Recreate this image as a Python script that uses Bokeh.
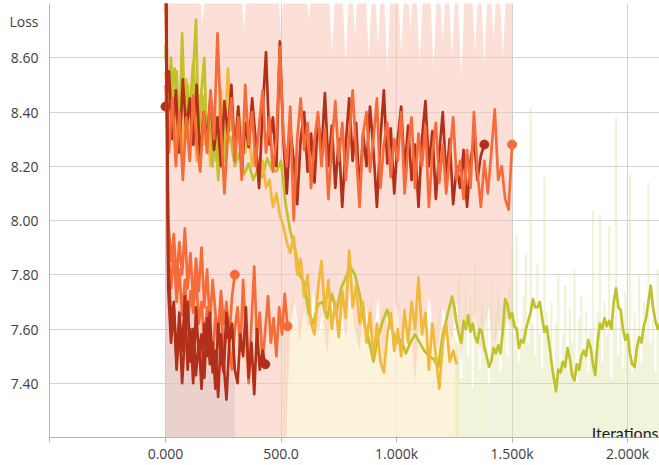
import numpy as np
from bokeh.plotting import figure
from bokeh.models import Range1d, FixedTicker, Label
from bokeh.embed import file_html
from bokeh.resources import INLINE

# ---------------- data ----------------
X_TICKS = [-500, 0, 500, 1000, 1500, 2000]
X_TICK_LABELS = ["", "0.000", "500.0", "1.000k", "1.500k", "2.000k"]
Y_GRID = [7.4, 7.6, 7.8, 8.0, 8.2, 8.4, 8.6, 8.8]
Y_TICKS = [7.4, 7.6, 7.8, 8.0, 8.2, 8.4, 8.6, 8.735]
Y_TICK_LABELS = ["7.40", "7.60", "7.80", "8.00", "8.20", "8.40", "8.60", "Loss"]
X_LABEL = "Iterations"
X_MIN, X_MAX = -502, 2138
Y_MIN, Y_MAX = 7.2, 8.8

# smoothed runs (values at a fixed iteration step, starting at iteration 0)
UPPER_DARK_STEP = 15
UPPER_DARK = [8.42, 8.55, 8.30, 8.48, 8.25, 8.52, 8.33, 8.45, 8.28, 8.50,
              8.22, 8.40, 8.30, 8.46, 8.26, 8.38, 8.20, 8.44, 8.32, 8.50,
              8.24, 8.42, 8.18, 8.36, 8.27, 8.45, 8.30, 8.12, 8.40, 8.62,
              8.28, 8.38, 8.20, 8.66, 8.30, 8.10, 8.34, 8.22, 8.06, 8.30,
              8.40, 8.18, 8.32, 8.14, 8.38, 8.25, 8.47, 8.20, 8.35, 8.12,
              8.30, 8.05, 8.28, 8.45, 8.22, 8.36, 8.10, 8.32, 8.20, 8.42,
              8.26, 8.05, 8.30, 8.48, 8.21, 8.34, 8.10, 8.30, 8.42, 8.18,
              8.35, 8.15, 8.28, 8.05, 8.30, 8.44, 8.20, 8.33, 8.08, 8.25,
              8.40, 8.15, 8.30, 8.06, 8.20, 8.12, 8.26, 8.05, 8.22, 8.30,
              8.15, 8.24, 8.28]

UPPER_ORANGE_STEP = 15
UPPER_ORANGE = [8.50, 8.25, 8.45, 8.20, 8.40, 8.15, 8.38, 8.22, 8.46, 8.28,
                8.18, 8.40, 8.25, 8.48, 8.30, 8.69, 8.35, 8.10, 8.32, 8.45,
                8.22, 8.38, 8.15, 8.50, 8.28, 8.40, 8.20, 8.35, 8.48, 8.25,
                8.38, 8.18, 8.30, 8.64, 8.32, 8.20, 8.42, 8.00, 8.30, 8.45,
                8.26, 8.36, 8.12, 8.30, 8.40, 8.20, 8.34, 8.08, 8.28, 8.44,
                8.22, 8.36, 8.15, 8.30, 8.48, 8.25, 8.05, 8.32, 8.40, 8.18,
                8.30, 8.45, 8.12, 8.28, 8.36, 8.16, 8.30, 8.22, 8.40, 8.10,
                8.27, 8.38, 8.12, 8.32, 8.20, 8.35, 8.05, 8.25, 8.36, 8.14,
                8.28, 8.10, 8.24, 8.38, 8.15, 8.22, 8.08, 8.26, 8.12, 8.40,
                8.18, 8.05, 8.22, 8.10, 8.25, 8.41, 8.15, 8.20, 8.08, 8.04,
                8.28]

LOWER_DARK_A_STEP = 12
LOWER_DARK_A = [9.30, 7.85, 7.62, 7.70, 7.48, 7.66, 7.52, 7.72, 7.45, 7.60,
                7.40, 7.68, 7.50, 7.58, 7.42, 7.64, 7.47, 7.55, 7.38, 7.62,
                7.50, 7.44, 7.66, 7.58]

LOWER_DARK_B_STEP = 12
LOWER_DARK_B = [9.10, 7.75, 7.55, 7.68, 7.45, 7.62, 7.40, 7.58, 7.70, 7.48,
                7.60, 7.43, 7.56, 7.38, 7.62, 7.50, 7.66, 7.44, 7.52, 7.35,
                7.58, 7.47, 7.34, 7.55, 7.62, 7.45, 7.40, 7.58, 7.50, 7.68,
                7.42, 7.55, 7.36, 7.60, 7.45, 7.52, 7.47]

LOWER_ORANGE_A_STEP = 12
LOWER_ORANGE_A = [9.00, 8.00, 7.85, 7.95, 7.78, 7.92, 7.80, 7.97, 7.75, 7.88,
                  7.70, 7.86, 7.74, 7.90, 7.68, 7.82, 7.62, 7.78, 7.66, 7.58,
                  7.74, 7.62, 7.70, 7.56, 7.72, 7.80]

LOWER_ORANGE_B_STEP = 12
LOWER_ORANGE_B = [8.90, 7.90, 7.75, 7.88, 7.70, 7.82, 7.65, 7.78, 7.60, 7.74,
                  7.66, 7.80, 7.62, 7.70, 7.55, 7.68, 7.58, 7.50, 7.64, 7.56,
                  7.72, 7.48, 7.62, 7.54, 7.45, 7.60, 7.68, 7.52, 7.78, 7.58,
                  7.40, 7.62, 7.83, 7.55, 7.66, 7.48, 7.60, 7.72, 7.55, 7.64,
                  7.50, 7.68, 7.58, 7.73, 7.61]

OLIVE_SHORT_STEP = 12
OLIVE_SHORT = [8.65, 8.40, 8.60, 8.35, 8.55, 8.30, 8.69, 8.38, 8.50, 8.30,
               8.55, 8.74, 8.28, 8.48, 8.60, 8.25, 8.42, 8.20, 8.38, 8.15,
               8.30, 8.22, 8.34]

# long olive run: first part every 20 iterations (0..1220), tail every 10 (1240..)
OLIVE_LONG_STEP = 20
OLIVE_LONG = [8.62, 8.40, 8.56, 8.30, 8.50, 8.36, 8.58, 8.32, 8.46, 8.28,
              8.40, 8.22, 8.36, 8.27, 8.31, 8.20, 8.25, 8.17, 8.21, 8.15,
              8.19, 8.16, 8.23, 8.19, 8.18, 8.22,
              8.06, 7.96, 7.90, 7.80, 7.77, 7.66, 7.62, 7.69, 7.70, 7.64,
              7.73, 7.66, 7.75, 7.79, 7.83, 7.80, 7.73, 7.62, 7.56, 7.48,
              7.57, 7.63, 7.67, 7.60, 7.55,
              7.56, 7.51, 7.55, 7.58, 7.55, 7.52, 7.50, 7.49, 7.46, 7.58, 7.65]
OLIVE_TAIL_START, OLIVE_TAIL_STEP = 1240, 10
OLIVE_TAIL = [7.72, 7.68, 7.62, 7.58, 7.55, 7.63, 7.60, 7.65, 7.59, 7.62,
              7.57, 7.55, 7.60, 7.59, 7.53, 7.50, 7.46, 7.48, 7.53, 7.51,
              7.54, 7.51, 7.60, 7.71, 7.69, 7.64, 7.66, 7.61, 7.60, 7.53,
              7.56, 7.55, 7.60, 7.63, 7.66, 7.71, 7.68, 7.68, 7.70, 7.64,
              7.59, 7.61, 7.55, 7.48, 7.42, 7.37, 7.45, 7.44, 7.48, 7.46,
              7.53, 7.49, 7.43, 7.41, 7.47, 7.45, 7.50, 7.52, 7.50, 7.56,
              7.53, 7.47, 7.43, 7.55, 7.62, 7.60, 7.64, 7.61, 7.63, 7.60,
              7.70, 7.75, 7.68, 7.67, 7.60, 7.56, 7.58, 7.51, 7.47, 7.46,
              7.53, 7.57, 7.55, 7.61, 7.64, 7.70, 7.76, 7.68, 7.63, 7.60,
              7.62, 7.66, 7.64]

AMBER_STEP = 15
AMBER = [8.55, 8.35, 8.50, 8.30, 8.45, 8.25, 8.52, 8.32, 8.40, 8.22,
         8.46, 8.28, 8.38, 8.20, 8.42, 8.30, 8.48, 8.25, 8.56, 8.35,
         8.30, 8.42, 8.31, 8.25, 8.35, 8.20, 8.28, 8.15, 8.22, 8.12,
         8.15, 8.05, 8.10, 8.02, 7.98, 7.92, 7.88, 7.94, 7.80, 7.86,
         7.72, 7.80, 7.62, 7.58, 7.75, 7.85, 7.66, 7.78, 7.60, 7.70,
         7.57, 7.74, 7.64, 7.89, 7.68, 7.76, 7.62, 7.70, 7.55, 7.66,
         7.50, 7.62, 7.48, 7.44, 7.58, 7.66, 7.52, 7.60, 7.50, 7.67,
         7.55, 7.70, 7.60, 7.79, 7.58, 7.66, 7.45, 7.62, 7.50, 7.38,
         7.55, 7.62, 7.48, 7.52, 7.47]

# faint raw data envelopes
RAW_FLOOR = 7.15
PINK_STEP = 20
PINK_HI = [8.95, 8.95, 8.95, 8.95, 8.95, 8.95, 8.95, 8.95, 8.72, 8.95,
           8.95, 8.95, 8.95, 8.95, 8.95, 8.95, 8.95, 8.70, 8.95, 8.95,
           8.95, 8.95, 8.95, 8.95, 8.95, 8.68, 8.95, 8.95, 8.95, 8.95,
           8.95, 8.74, 8.95, 8.95, 8.95,
           8.95, 8.62, 8.95, 8.95, 8.58, 8.95, 8.68, 8.95, 8.95, 8.60,
           8.95, 8.64, 8.95, 8.55, 8.95, 8.95, 8.62, 8.95, 8.70, 8.95,
           8.58, 8.95, 8.95, 8.56, 8.95, 8.66, 8.95, 8.60, 8.95, 8.52,
           8.95, 8.95, 8.62, 8.95, 8.58, 8.95, 8.66, 8.95, 8.60, 8.95, 8.95]
PINK_LO = [7.15] * 27 + [
           7.62, 7.70, 7.55, 7.68, 7.60, 7.75, 7.58, 7.66, 7.50, 7.72,
           7.62, 7.68, 7.56, 7.74, 7.60, 7.52, 7.70, 7.64, 7.58, 7.72,
           7.46, 7.66, 7.60, 7.70, 7.55, 7.68, 7.62, 7.40, 7.66, 7.58,
           7.72, 7.60, 7.52, 7.68, 7.62, 7.56, 7.70, 7.48, 7.64, 7.58,
           7.66, 7.52, 7.60, 7.68, 7.50, 7.62, 7.56, 7.64, 7.60]

MAUVE_STEP = 15
MAUVE_HI = [8.00, 7.70, 7.85, 7.60, 7.75, 7.55, 7.80, 7.62, 7.70, 7.50,
            7.78, 7.58, 7.66, 7.52, 7.72, 7.60, 7.50, 7.68, 7.45, 7.55, 7.40]

CREAM_START, CREAM_STEP = 510, 20
CREAM_HI = [7.70, 7.64, 7.74, 7.60, 7.68, 7.76, 7.62, 7.70, 7.58, 7.68,
            7.72, 7.60, 7.70, 7.56, 7.66, 7.72, 7.58, 7.68, 7.62, 7.74,
            7.56, 7.66, 7.70, 7.55, 7.65, 7.72, 7.60, 7.68, 7.52, 7.64,
            7.70, 7.56, 7.65, 7.60, 7.68, 7.54, 7.62, 7.58, 7.50]

OLIVE_RAW_START, OLIVE_RAW_STEP = 1260, 10
OLIVE_RAW_TOP = [7.55, 7.80, 7.42, 7.65, 7.75, 7.50, 7.72, 7.38, 7.85, 7.60,
                 7.45, 7.70, 7.58, 7.66, 7.40, 7.78, 7.52, 7.66, 7.74, 7.44,
                 7.62, 7.70, 7.50, 7.75, 7.90, 7.58, 7.95, 7.48, 7.60, 7.72,
                 7.88, 7.55, 8.42, 7.62, 7.50, 7.84, 7.58, 7.46, 8.16, 7.66,
                 7.50, 7.70, 7.38, 7.62, 7.80, 7.48, 7.58, 7.76, 7.45, 7.68,
                 7.55, 7.82, 7.40, 7.64, 7.72, 7.50, 7.66, 7.44, 7.60, 8.04,
                 7.52, 7.66, 8.02, 7.48, 7.70, 7.58, 7.98, 7.42, 7.62, 8.38,
                 7.50, 7.68, 7.46, 7.74, 7.56, 8.17, 7.44, 7.66, 7.52, 7.80,
                 7.48, 7.70, 7.58, 8.14, 7.55, 7.64, 7.44, 7.82, 7.58, 7.68, 7.50]

# colours
DARK_RED = "#b2301a"
ORANGE = "#f56b3a"
OLIVE = "#c0c22c"
AMBER_C = "#f1b83c"


def xs(step, n, start=0):
    return [start + step * i for i in range(n)]


p = figure(width=659, height=465, output_backend="svg", toolbar_location=None,
           x_range=Range1d(X_MIN, X_MAX), y_range=Range1d(Y_MIN, Y_MAX),
           min_border_left=49, min_border_right=0, min_border_top=3,
           min_border_bottom=28)
p.outline_line_color = None
p.background_fill_color = "white"
p.border_fill_color = "white"

# axes
p.xaxis.ticker = FixedTicker(ticks=X_TICKS)
p.xaxis.major_label_overrides = dict(zip(X_TICKS, X_TICK_LABELS))
p.yaxis.ticker = FixedTicker(ticks=Y_TICKS)
p.yaxis.major_label_overrides = dict(zip(Y_TICKS, Y_TICK_LABELS))
for ax in (p.xaxis, p.yaxis):
    ax.axis_line_color = "#b4b4b4"
    ax.major_tick_line_color = "#b4b4b4"
    ax.major_tick_in = 0
    ax.minor_tick_in = 0
    ax.minor_tick_out = 0
    ax.major_label_text_font = "Open Sans"
    ax.major_label_text_font_size = "14px"
    ax.major_label_text_color = "#404040"
p.xaxis.major_tick_out = 5
p.xaxis.major_label_standoff = 1
p.yaxis.major_tick_out = 0
p.yaxis.major_label_standoff = 11

p.xgrid.ticker = FixedTicker(ticks=X_TICKS)
p.ygrid.ticker = FixedTicker(ticks=Y_GRID)
p.xgrid.grid_line_color = "#d3d3d3"
p.ygrid.grid_line_color = "#d3d3d3"

# faint raw data
p.varea(x=xs(CREAM_STEP, len(CREAM_HI), CREAM_START), y1=[RAW_FLOOR] * len(CREAM_HI),
        y2=CREAM_HI, fill_color="#fcefcf", fill_alpha=0.75)
n = min(len(PINK_HI), len(PINK_LO))
p.varea(x=xs(PINK_STEP, n), y1=PINK_LO[:n], y2=PINK_HI[:n],
        fill_color="#fac4b5", fill_alpha=0.55)
p.varea(x=xs(MAUVE_STEP, len(MAUVE_HI)), y1=[RAW_FLOOR] * len(MAUVE_HI), y2=MAUVE_HI,
        fill_color="#bfb3bd", fill_alpha=0.30)
ox = xs(OLIVE_RAW_STEP, len(OLIVE_RAW_TOP), OLIVE_RAW_START)
p.segment(x0=ox, y0=[RAW_FLOOR] * len(ox), x1=ox, y1=OLIVE_RAW_TOP,
          line_color="#d9e09a", line_width=2.2, line_alpha=0.4)

# smoothed lines
LW = 2.7
def run(x, vals, color, dot_end=True, dot_start=False):
    p.line(x, vals, line_color=color, line_width=LW, line_join="round")
    if dot_end:
        p.scatter([x[-1]], [vals[-1]], size=9, color=color)
    if dot_start:
        p.scatter([x[0]], [vals[0]], size=9, color=color)

olive_x = xs(OLIVE_LONG_STEP, len(OLIVE_LONG)) + xs(OLIVE_TAIL_STEP, len(OLIVE_TAIL), OLIVE_TAIL_START)
run(olive_x, OLIVE_LONG + OLIVE_TAIL, OLIVE, dot_end=False)
run(xs(AMBER_STEP, len(AMBER)), AMBER, AMBER_C, dot_end=False)
run(xs(OLIVE_SHORT_STEP, len(OLIVE_SHORT)), OLIVE_SHORT, OLIVE)
run(xs(UPPER_DARK_STEP, len(UPPER_DARK)), UPPER_DARK, DARK_RED, dot_start=True)
run(xs(UPPER_ORANGE_STEP, len(UPPER_ORANGE)), UPPER_ORANGE, ORANGE)
run(xs(LOWER_ORANGE_A_STEP, len(LOWER_ORANGE_A)), LOWER_ORANGE_A, ORANGE)
run(xs(LOWER_ORANGE_B_STEP, len(LOWER_ORANGE_B)), LOWER_ORANGE_B, ORANGE)
run(xs(LOWER_DARK_A_STEP, len(LOWER_DARK_A)), LOWER_DARK_A, DARK_RED)
run(xs(LOWER_DARK_B_STEP, len(LOWER_DARK_B)), LOWER_DARK_B, DARK_RED)

# x axis title (inside the plot area, bottom right)
p.add_layout(Label(x=609, y=5, x_units="screen", y_units="screen", text=X_LABEL,
                   text_font="Lato", text_font_size="16px", text_color="#1a1a1a",
                   text_baseline="alphabetic", text_align="right"))

open("out.html", "w").write(file_html(p, INLINE))
